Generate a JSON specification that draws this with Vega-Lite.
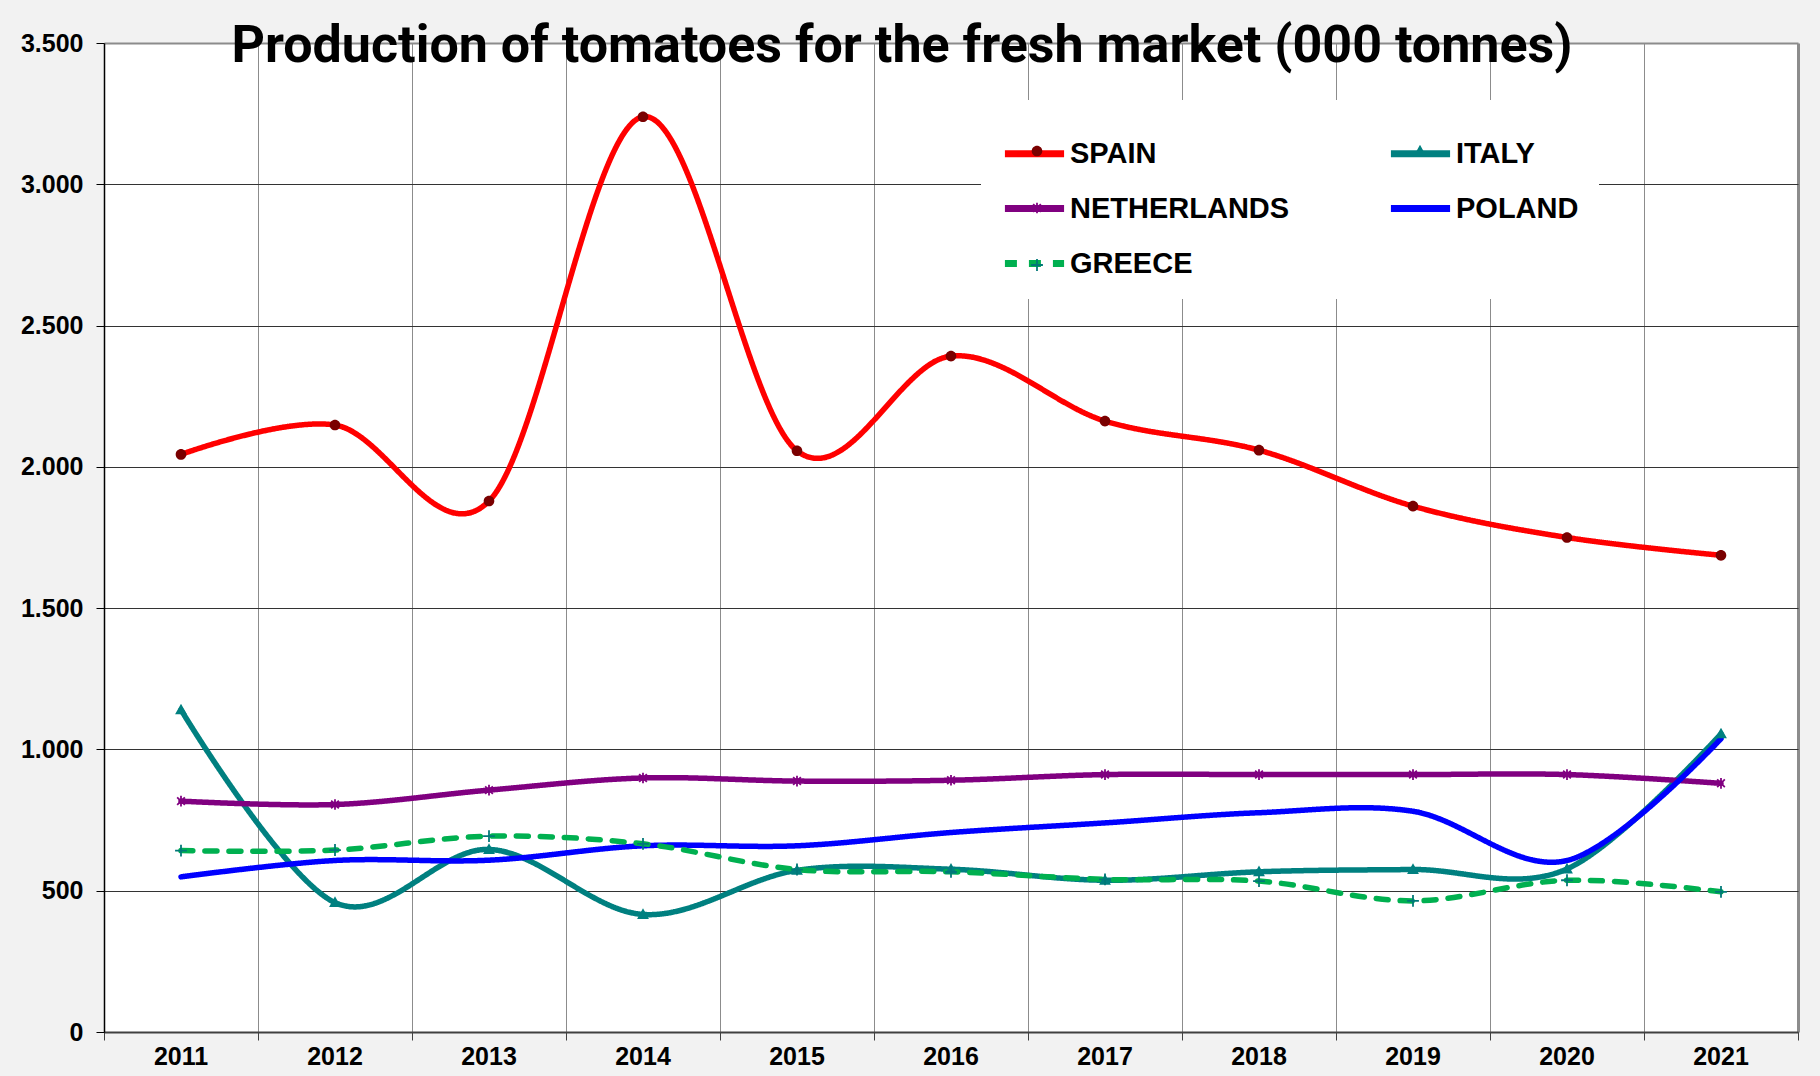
{
  "$schema": "https://vega.github.io/schema/vega-lite/v6.json",
  "width": 1694,
  "height": 989,
  "autosize": {"type": "none"},
  "padding": {"left": 104, "top": 43, "right": 22, "bottom": 44},
  "background": "#f2f2f2",
  "title": {
    "text": "Production of tomatoes for the fresh market (000 tonnes)",
    "font": "Roboto",
    "fontSize": 52,
    "fontWeight": "bold",
    "color": "black",
    "anchor": "middle",
    "frame": "group",
    "baseline": "alphabetic",
    "offset": -54,
    "dx": -49,
    "dy": 29
  },
  "data": {
    "values": [
      {"year": "2011", "country": "SPAIN", "value": 2044},
      {"year": "2012", "country": "SPAIN", "value": 2148},
      {"year": "2013", "country": "SPAIN", "value": 1879},
      {"year": "2014", "country": "SPAIN", "value": 3239},
      {"year": "2015", "country": "SPAIN", "value": 2057},
      {"year": "2016", "country": "SPAIN", "value": 2392},
      {"year": "2017", "country": "SPAIN", "value": 2162},
      {"year": "2018", "country": "SPAIN", "value": 2059},
      {"year": "2019", "country": "SPAIN", "value": 1861},
      {"year": "2020", "country": "SPAIN", "value": 1750},
      {"year": "2021", "country": "SPAIN", "value": 1687},
      {"year": "2011", "country": "ITALY", "value": 1140},
      {"year": "2012", "country": "ITALY", "value": 458},
      {"year": "2013", "country": "ITALY", "value": 646},
      {"year": "2014", "country": "ITALY", "value": 416},
      {"year": "2015", "country": "ITALY", "value": 572},
      {"year": "2016", "country": "ITALY", "value": 576},
      {"year": "2017", "country": "ITALY", "value": 537},
      {"year": "2018", "country": "ITALY", "value": 567},
      {"year": "2019", "country": "ITALY", "value": 575},
      {"year": "2020", "country": "ITALY", "value": 577},
      {"year": "2021", "country": "ITALY", "value": 1055},
      {"year": "2011", "country": "NETHERLANDS", "value": 817},
      {"year": "2012", "country": "NETHERLANDS", "value": 805},
      {"year": "2013", "country": "NETHERLANDS", "value": 856},
      {"year": "2014", "country": "NETHERLANDS", "value": 899},
      {"year": "2015", "country": "NETHERLANDS", "value": 888},
      {"year": "2016", "country": "NETHERLANDS", "value": 891},
      {"year": "2017", "country": "NETHERLANDS", "value": 911},
      {"year": "2018", "country": "NETHERLANDS", "value": 911},
      {"year": "2019", "country": "NETHERLANDS", "value": 911},
      {"year": "2020", "country": "NETHERLANDS", "value": 911},
      {"year": "2021", "country": "NETHERLANDS", "value": 880},
      {"year": "2011", "country": "POLAND", "value": 549},
      {"year": "2012", "country": "POLAND", "value": 607},
      {"year": "2013", "country": "POLAND", "value": 608},
      {"year": "2014", "country": "POLAND", "value": 659},
      {"year": "2015", "country": "POLAND", "value": 659},
      {"year": "2016", "country": "POLAND", "value": 706},
      {"year": "2017", "country": "POLAND", "value": 740},
      {"year": "2018", "country": "POLAND", "value": 776},
      {"year": "2019", "country": "POLAND", "value": 781},
      {"year": "2020", "country": "POLAND", "value": 607},
      {"year": "2021", "country": "POLAND", "value": 1038},
      {"year": "2011", "country": "GREECE", "value": 642},
      {"year": "2012", "country": "GREECE", "value": 644},
      {"year": "2013", "country": "GREECE", "value": 693},
      {"year": "2014", "country": "GREECE", "value": 666},
      {"year": "2015", "country": "GREECE", "value": 575},
      {"year": "2016", "country": "GREECE", "value": 567},
      {"year": "2017", "country": "GREECE", "value": 540},
      {"year": "2018", "country": "GREECE", "value": 534},
      {"year": "2019", "country": "GREECE", "value": 464},
      {"year": "2020", "country": "GREECE", "value": 537},
      {"year": "2021", "country": "GREECE", "value": 496}
    ]
  },
  "encoding": {
    "x": {
      "field": "year",
      "type": "ordinal",
      "scale": {"type": "band", "paddingInner": 0, "paddingOuter": 0},
      "axis": {
        "title": null,
        "labelAngle": 0,
        "bandPosition": 1,
        "tickExtra": true,
        "grid": true,
        "gridColor": "#8c8c8c",
        "gridWidth": {"condition": {"test": "datum.value === '2021'", "value": 3}, "value": 1},
        "tickSize": 8,
        "tickColor": "#404040",
        "domainColor": "#404040",
        "domainWidth": 2,
        "labelFont": "Liberation Sans",
        "labelFontSize": 25,
        "labelFontWeight": "bold",
        "labelColor": "black",
        "labelPadding": 4
      }
    },
    "y": {
      "field": "value",
      "type": "quantitative",
      "scale": {"domain": [0, 3500], "nice": false},
      "axis": {
        "title": null,
        "values": [0, 500, 1000, 1500, 2000, 2500, 3000, 3500],
        "labelExpr": "replace(format(datum.value, ','), ',', '.')",
        "labelFont": "Liberation Sans",
        "labelFontSize": 25,
        "labelFontWeight": "bold",
        "labelColor": "black",
        "labelPadding": 13,
        "labelFlush": false,
        "labelOverlap": false,
        "tickSize": 8,
        "tickColor": "black",
        "domainColor": "black",
        "domainWidth": 1.5,
        "grid": true,
        "gridColor": {"condition": {"test": "datum.value === 3500", "value": "#8c8c8c"}, "value": "#333333"},
        "gridWidth": {"condition": {"test": "datum.value === 3500", "value": 2}, "value": 1}
      }
    }
  },
  "layer": [
    {
      "mark": {"type": "line", "interpolate": "cardinal", "strokeWidth": 5.5, "strokeCap": "round", "strokeJoin": "round"},
      "encoding": {
        "stroke": {
          "field": "country",
          "type": "nominal",
          "scale": {
            "domain": ["SPAIN", "ITALY", "NETHERLANDS", "POLAND", "GREECE"],
            "range": ["#ff0000", "#008080", "#800080", "#0000ff", "#00b050"]
          },
          "legend": {
            "title": null,
            "orient": "none",
            "legendX": 877,
            "legendY": 57,
            "direction": "horizontal",
            "columns": 2,
            "gridAlign": "all",
            "columnPadding": 86,
            "rowPadding": 6,
            "padding": 20,
            "symbolSize": 3500,
            "symbolStrokeWidth": 7,
            "labelFont": "Liberation Sans",
            "labelFontSize": 29,
            "labelFontWeight": "bold",
            "labelColor": "black",
            "labelOffset": 2,
            "labelLimit": 400,
            "fillColor": "white",
            "zindex": 0
          }
        },
        "strokeDash": {
          "field": "country",
          "type": "nominal",
          "scale": {
            "domain": ["SPAIN", "ITALY", "NETHERLANDS", "POLAND", "GREECE"],
            "range": [[1, 0], [1, 0], [1, 0], [1, 0], [12, 12]]
          },
          "legend": {
            "title": null,
            "orient": "none",
            "legendX": 877,
            "legendY": 57,
            "direction": "horizontal",
            "columns": 2,
            "gridAlign": "all",
            "columnPadding": 86,
            "rowPadding": 6,
            "padding": 20,
            "symbolSize": 3500,
            "symbolStrokeWidth": 7,
            "labelFont": "Liberation Sans",
            "labelFontSize": 29,
            "labelFontWeight": "bold",
            "labelColor": "black",
            "labelOffset": 2,
            "labelLimit": 400,
            "fillColor": "white",
            "zindex": 0
          }
        }
      }
    },
    {
      "mark": {"type": "point", "filled": true, "size": 3500, "opacity": 1, "strokeWidth": 0},
      "encoding": {
        "color": {
          "field": "country",
          "type": "nominal",
          "scale": {
            "domain": ["SPAIN", "NETHERLANDS", "GREECE", "ITALY", "POLAND"],
            "range": ["#7a0000", "#800080", "#007878", "#008080", "#0000ff"]
          },
          "legend": {
            "title": null,
            "orient": "none",
            "legendX": 883,
            "legendY": 58,
            "direction": "vertical",
            "columns": 2,
            "gridAlign": "all",
            "columnPadding": 97,
            "rowPadding": 12,
            "padding": 20,
            "symbolSize": 3500,
            "symbolStrokeWidth": 0,
            "labelFont": "Liberation Sans",
            "labelFontSize": 29,
            "labelFontWeight": "bold",
            "labelColor": "black",
            "labelOpacity": 0,
            "labelOffset": 2,
            "labelLimit": 400,
            "zindex": 1
          }
        },
        "shape": {
          "field": "country",
          "type": "nominal",
          "scale": {
            "domain": ["SPAIN", "NETHERLANDS", "GREECE", "ITALY", "POLAND"],
            "range": [
              "M-1.12,0ZM1.12,0ZM-0.18,0A0.18,0.18,0,1,0,0.18,0A0.18,0.18,0,1,0,-0.18,0Z",
              "M-1.12,0ZM1.12,0ZM-0.03,-0.18L0.03,-0.18L0.03,0.18L-0.03,0.18ZM-0.109,-0.151L0.151,0.109L0.109,0.151L-0.151,-0.109ZM-0.151,0.109L0.109,-0.151L0.151,-0.109L-0.109,0.151Z",
              "M-1.12,0ZM1.12,0ZM-0.2,-0.03L-0.03,-0.03L-0.03,-0.2L0.03,-0.2L0.03,-0.03L0.2,-0.03L0.2,0.03L0.03,0.03L0.03,0.2L-0.03,0.2L-0.03,0.03L-0.2,0.03Z",
              "M-1.12,0ZM1.12,0ZM0,-0.21L0.2,0.15L-0.2,0.15Z",
              "M-1.12,0ZM1.12,0Z"
            ]
          },
          "legend": {
            "title": null,
            "orient": "none",
            "legendX": 883,
            "legendY": 58,
            "direction": "vertical",
            "columns": 2,
            "gridAlign": "all",
            "columnPadding": 97,
            "rowPadding": 12,
            "padding": 20,
            "symbolSize": 3500,
            "symbolStrokeWidth": 0,
            "labelFont": "Liberation Sans",
            "labelFontSize": 29,
            "labelFontWeight": "bold",
            "labelColor": "black",
            "labelOpacity": 0,
            "labelOffset": 2,
            "labelLimit": 400,
            "zindex": 1
          }
        }
      }
    }
  ],
  "config": {
    "view": {"stroke": null, "fill": "white"}
  }
}
